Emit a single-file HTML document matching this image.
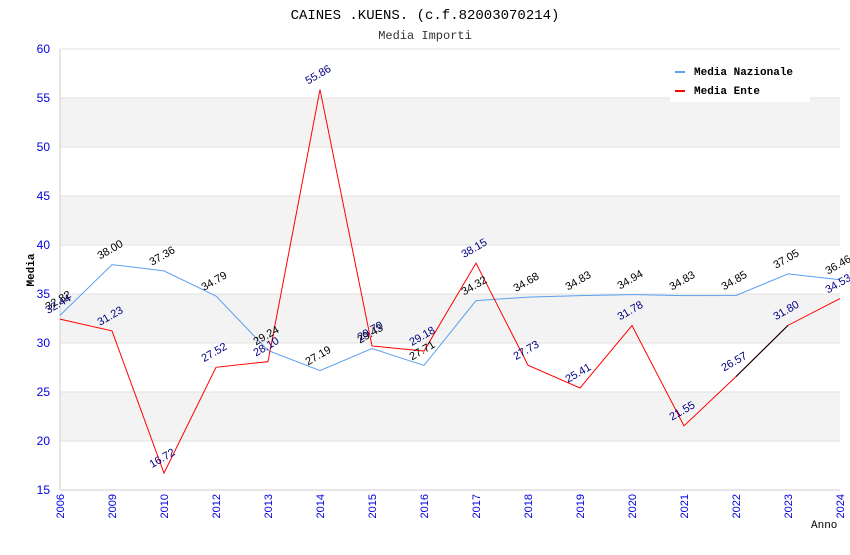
<!DOCTYPE html>
<html><head><meta charset="utf-8"><style>
body{margin:0;background:#fff}
svg text{font-family:"Liberation Sans",sans-serif}
.mono{font-family:"Liberation Mono",monospace}
</style></head><body>
<svg id="c" width="850" height="550" xmlns="http://www.w3.org/2000/svg">
<text class="mono" x="425" y="19" text-anchor="middle" font-size="14">CAINES .KUENS. (c.f.82003070214)</text>
<text class="mono" x="425" y="39" text-anchor="middle" font-size="12" fill="#333">Media Importi</text>
<g id="bands"></g><g id="grid"></g><g id="axes"></g><g id="series"></g><g id="labels"></g>
<text class="mono" x="34" y="270" font-size="11" font-weight="bold" transform="rotate(-90 34 270)" text-anchor="middle">Media</text>
<text class="mono" x="811" y="528" font-size="11">Anno</text>
<g>
<rect x="670" y="60" width="140" height="42" fill="#fff"/>
<rect x="675" y="71" width="10" height="2" fill="#5aa0ee"/>
<text class="mono" x="694" y="75" font-size="11" font-weight="bold">Media Nazionale</text>
<rect x="675" y="90" width="10" height="2" fill="#ff0000"/>
<text class="mono" x="694" y="94" font-size="11" font-weight="bold">Media Ente</text>
</g>
</svg>
<script>
const categories=["2006","2009","2010","2012","2013","2014","2015","2016","2017","2018","2019","2020","2021","2022","2023","2024"];
const nazionale=[32.82,38.00,37.36,34.79,29.24,27.19,29.43,27.71,34.32,34.68,34.83,34.94,34.83,34.85,37.05,36.46];
const ente=[32.44,31.23,16.72,27.52,28.10,55.86,29.70,29.18,38.15,27.73,25.41,31.78,21.55,26.57,31.80,34.53];
const yTicks=[15,20,25,30,35,40,45,50,55,60];
const NS="http://www.w3.org/2000/svg";
const X0=60,X1=840,Y0=490,Y1=49,ymin=15,ymax=60;
const x=i=>X0+i*(X1-X0)/(categories.length-1);
const y=v=>Y0-(v-ymin)*(Y0-Y1)/(ymax-ymin);
function mk(tag,attrs,parent,txt){const e=document.createElementNS(NS,tag);for(const k in attrs)e.setAttribute(k,attrs[k]);if(txt!==undefined)e.textContent=txt;document.getElementById(parent).appendChild(e);return e;}
for(let i=0;i<yTicks.length-1;i++){
  if(i%2===1){const r=mk('rect',{x:X0,y:y(yTicks[i+1]),width:X1-X0,height:y(yTicks[i])-y(yTicks[i+1]),fill:'#f3f3f3'},'bands');
  
  }
}
yTicks.forEach(t=>{
  const l=mk('line',{x1:X0,x2:X1,y1:y(t),y2:y(t),stroke:'#e0e0e0'},'grid');
  
  
  const tx=mk('text',{x:X0-10,y:y(t)+4,'text-anchor':'end','font-size':12,fill:'#0000dd'},'axes',t);
  
  
});
mk('line',{x1:X0,x2:X0,y1:Y1,y2:Y0,stroke:'#ccc'},'axes');
mk('line',{x1:X0,x2:X1,y1:Y0,y2:Y0,stroke:'#ccc'},'axes');
categories.forEach((c,i)=>{
  const t=mk('text',{x:x(i)+4,y:Y0+4,'text-anchor':'end','font-size':11,fill:'#0000dd',transform:`rotate(-90 ${x(i)+4} ${Y0+4})`},'axes',c);
  
  
});
const pn=mk('polyline',{points:nazionale.map((v,i)=>x(i)+','+y(v)).join(' '),fill:'none',stroke:'#5aa0ee','stroke-width':1},'series');


const pe=mk('polyline',{points:ente.map((v,i)=>x(i)+','+y(v)).join(' '),fill:'none',stroke:'#ff0000','stroke-width':1},'series');


const seg=mk('line',{x1:x(13),y1:y(ente[13]),x2:x(14),y2:y(ente[14]),stroke:'#000'},'series');


function lab(arr,color,name){arr.forEach((v,i)=>{
  const px=x(i)-12,py=y(v)-5;
  const t=mk('text',{x:px,y:py,'font-size':11,fill:color,transform:`rotate(-30 ${px} ${py})`},'labels',v.toFixed(2));
  
  
});}
lab(nazionale,'#000','label-nazionale');
lab(ente,'#000080','label-ente');
</script>
</body></html>
